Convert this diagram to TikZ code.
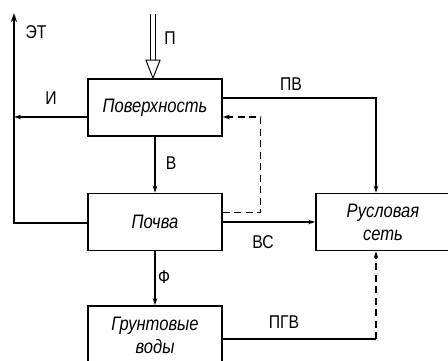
\documentclass[tikz,border=0pt]{standalone}
\usepackage{fontspec}
\setmainfont{Liberation Sans}[FakeStretch=0.85]
\usetikzlibrary{arrows.meta,positioning}
\tikzset{
  >={Stealth[length=7pt,width=4.5pt]},
  block/.style={draw,line width=1.6pt,minimum width=134pt,minimum height=57pt,
    align=center,font=\fontsize{19.5}{23}\selectfont\itshape},
  flow/.style={->,line width=1.1pt},
  broken/.style={dash pattern=on 7pt off 4.5pt},
  tag/.style={font=\fontsize{18.5}{20}\selectfont},
}
\begin{document}
\begin{tikzpicture}[x=1pt,y=-1pt]
  \clip (0,0) rectangle (448,360);
  \fill[white] (0,0) rectangle (448,360);
  % boxes
  \node[block] (surf) at (155,107.5) {Поверхность};
  \node[block] (soil) at (155,222) {Почва};
  \node[block,minimum height=58pt] (ground) at (155,335) {Грунтовые\\воды};
  \node[block] (river) at (383,222) {Русловая\\сеть};
  % helper points
  \coordinate (etTop) at (14,13);
  \coordinate (pin) at (153,14);
  \coordinate (rs) at ([xshift=-7pt]river.south);
  \coordinate (rn) at ([xshift=-7pt]river.north);
  \coordinate (iout) at ([yshift=-9.5pt]surf.west);
  \coordinate (pgv) at ([yshift=-4pt]ground.east);
  % precipitation
  \draw[double,double distance=3.5pt,line width=0.9pt] (pin) -- ([xshift=-2pt,yshift=17pt]surf.north);
  \draw[line width=1pt,fill=white] ([xshift=-2pt]surf.north) -- ++(-7,-18) -- ++(14,0) -- cycle;
  % evapotranspiration
  \draw[-{Stealth[length=9pt,width=6pt]},line width=2pt] ([yshift=-1pt]soil.west) -| (etTop);
  \draw[flow] (iout) -- (iout -| etTop);
  % runoff
  \draw[flow] ([yshift=9.5pt]surf.east) -| (rn);
  \draw[flow,broken] ([yshift=9.5pt]soil.east) -- ++(38,0) |- ([yshift=-9.5pt]surf.east);
  \draw[flow] (surf) -- (soil);
  \draw[flow] (soil) -- (river);
  \draw[flow] (soil) -- (ground);
  \draw[line width=1.1pt] (pgv) -- (pgv -| rs) coordinate (pgvc);
  \draw[flow,broken] (pgvc) -- (rs);
  % labels
  \node[tag] (lP) at (170,38) {П};
  \node[tag] (lET) at (36,32) {ЭТ};
  \node[tag] (lI) at (51,98) {И};
  \node[tag] (lPV) at (291,84) {ПВ};
  \node[tag] (lV) at (171,163) {В};
  \node[tag] (lVS) at (263,242) {ВС};
  \node[tag] (lF) at (164,277) {Ф};
  \node[tag] (lPGV) at (284,322) {ПГВ};
\end{tikzpicture}
\end{document}
